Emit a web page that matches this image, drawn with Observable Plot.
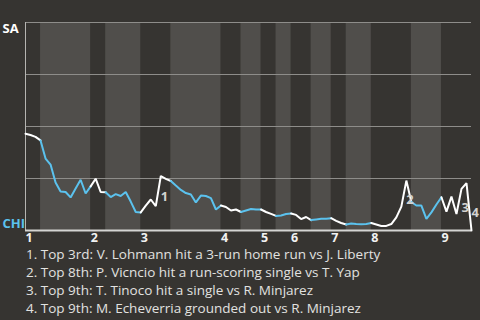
<!DOCTYPE html>
<html>
<head>
<meta charset="utf-8">
<script src="https://cdn.jsdelivr.net/npm/d3@7"></script>
<script src="https://cdn.jsdelivr.net/npm/@observablehq/plot@0.6"></script>
<style>
  html, body { margin: 0; padding: 0; background: #363431; width: 480px; height: 320px; overflow: hidden; }
  #chart svg { display: block; }
  #notes { font-family: "Open Sans", sans-serif; font-size: 13.5px; color: #e2e2e0; padding-left: 26px; margin-top: 0px; line-height: 18px; }
</style>
</head>
<body>
<div id="chart"></div>
<div id="notes"></div>
<script>
// ---- data ----
const teams = ["SA", "CHI"];
const innings = ["1", "2", "3", "4", "5", "6", "7", "8", "9"];
// plate appearances per half inning (top 1, bottom 1, top 2, ...)
const halfPAs = [3, 10, 3, 7, 6, 10, 4, 4, 3, 3, 4, 4, 3, 5, 8, 6, 6];
// SA win probability after each plate appearance (index 0 = game start)
const winProbSA = [
  0.465, 0.459, 0.450, 0.433, 0.346, 0.317, 0.231, 0.188, 0.185, 0.159,
  0.202, 0.244, 0.178, 0.212, 0.249, 0.185, 0.184, 0.161, 0.175, 0.166,
  0.185, 0.139, 0.089, 0.087, 0.120, 0.149, 0.117, 0.262, 0.248, 0.238,
  0.216, 0.195, 0.180, 0.173, 0.135, 0.168, 0.166, 0.156, 0.101, 0.120,
  0.113, 0.096, 0.101, 0.089, 0.096, 0.103, 0.101, 0.101, 0.089, 0.080,
  0.070, 0.072, 0.079, 0.082, 0.075, 0.055, 0.065, 0.050, 0.053, 0.056,
  0.056, 0.059, 0.046, 0.036, 0.029, 0.034, 0.031, 0.030, 0.031, 0.036,
  0.029, 0.022, 0.022, 0.031, 0.063, 0.115, 0.240, 0.137, 0.120, 0.120,
  0.056, 0.087, 0.125, 0.160, 0.091, 0.163, 0.079, 0.200, 0.228, 0.000
];
const eventLabels = ["1", "2", "3", "4"];
const eventPA = [27, 76, 87, 89];
const eventTexts = [
  "1. Top 3rd: V. Lohmann hit a 3-run home run vs J. Liberty",
  "2. Top 8th: P. Vicncio hit a run-scoring single vs T. Yap",
  "3. Top 9th: T. Tinoco hit a single vs R. Minjarez",
  "4. Top 9th: M. Echeverria grounded out vs R. Minjarez"
];
const gridValues = [0.25, 0.5, 0.75, 1];

// ---- derived ----
const WHITE = "#ffffff", BLUE = "#5bc2ee";
const cum = [0];
halfPAs.forEach(n => cum.push(cum[cum.length - 1] + n));
const bands = halfPAs.map((n, k) => ({k, x1: cum[k], x2: cum[k + 1]})).filter(d => d.k % 2 === 1);
const inningStarts = innings.map((lab, j) => ({x: cum[2 * j], lab}));
const linePts = [];
halfPAs.forEach((n, k) => {
  for (let i = cum[k]; i <= cum[k + 1]; i++) linePts.push({x: i, y: winProbSA[i], z: k, c: k % 2 ? BLUE : WHITE});
});
const ev = eventPA.map((p, j) => ({x: p, y: (winProbSA[p - 1] + winProbSA[p]) / 2, lab: eventLabels[j]}));

const plot = Plot.plot({
  width: 480,
  height: 245,
  marginLeft: 25,
  marginRight: 9,
  marginTop: 22,
  marginBottom: 15,
  style: {background: "#363431", fontFamily: "Open Sans, sans-serif", overflow: "visible"},
  x: {domain: [0, cum[cum.length - 1]], axis: null},
  y: {domain: [0, 1], axis: null},
  marks: [
    Plot.rectX(bands, {x1: "x1", x2: "x2", y1: 0, y2: 1, fill: "#504e4b"}),
    Plot.ruleY(gridValues, {stroke: "#8e8d8a", strokeWidth: 1}),
    Plot.ruleX([0], {y1: 0, y2: 1, stroke: "#b5b4b1", strokeWidth: 1}),
    Plot.ruleY([0], {stroke: "#d4d4d2", strokeWidth: 2}),
    Plot.line(linePts, {x: "x", y: "y", z: "z", stroke: "c", strokeWidth: 2, strokeLinejoin: "miter"}),
    Plot.text(ev, {x: "x", y: "y", text: "lab", textAnchor: "start", dy: 6, fill: "#d2d2d0", fontSize: 13, fontWeight: "bold"}),
    Plot.text(inningStarts, {x: "x", y: 0, text: "lab", textAnchor: "start", lineAnchor: "top", dy: 3, dx: 0, fill: "#f2f2f2", fontSize: 12.5, fontWeight: "bold"}),
    Plot.text([teams[0]], {frameAnchor: "top-left", text: d => d, fill: WHITE, lineAnchor: "top", textAnchor: "start", dx: -23, dy: 1, fontSize: 13, fontWeight: "bold"}),
    Plot.text([teams[1]], {frameAnchor: "bottom-left", text: d => d, fill: BLUE, lineAnchor: "bottom", textAnchor: "start", dx: -23, dy: -3, fontSize: 13, fontWeight: "bold"})
  ]
});
document.getElementById("chart").appendChild(plot);
const notes = document.getElementById("notes");
eventTexts.forEach(t => { const d = document.createElement("div"); d.textContent = t; notes.appendChild(d); });
</script>
</body>
</html>
